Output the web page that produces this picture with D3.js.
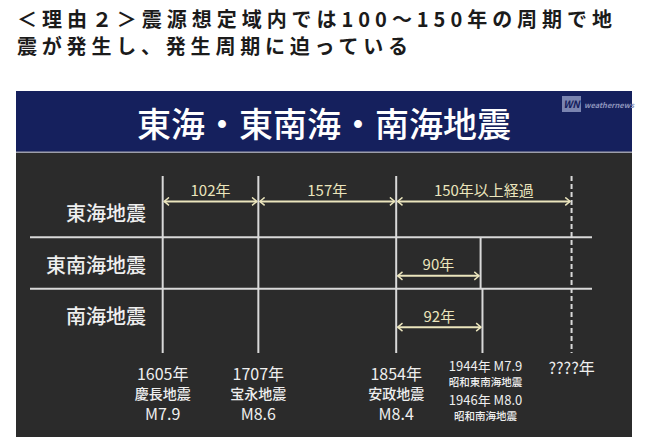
<!DOCTYPE html>
<html>
<head>
<meta charset="utf-8">
<script src="https://cdn.jsdelivr.net/npm/d3@7"></script>
<style>
  body { margin: 0; background: #fff; }
  svg { display: block; }
</style>
</head>
<body>
<div id="main"></div>
<script>
// Rows (source zones)
const zones = ['東海地震', '東南海地震', '南海地震'];

// Past quakes
const quakeYears = [1605, 1707, 1854, 1944, 1946];
const quakeNames = ['慶長地震', '宝永地震', '安政地震', '昭和東南海地震', '昭和南海地震'];
const quakeMags = ['M7.9', 'M8.6', 'M8.4', 'M7.9', 'M8.0'];
const quakeZones = [zones, zones, zones, ['東南海地震'], ['南海地震']];

// Next one - year unknown, drawn as the dashed line
const nextYear = 2041;
const nextLabel = '????年';

// Intervals (arrows)
const gapFrom = [1605, 1707, 1854, 1854, 1854];
const gapTo = [1707, 1854, nextYear, 1944, 1946];
const gapZone = ['東海地震', '東海地震', '東海地震', '東南海地震', '南海地震'];
const gapLabels = ['102年', '157年', '150年以上経過', '90年', '92年'];

// Texts
const headline = ['＜理由２＞震源想定域内では100〜150年の周期で地', '震が発生し、発生周期に迫っている'];
const panelTitle = '東海・東南海・南海地震';

// Colors
const navy = '#15205d';
const dark = '#2b2b2b';
const lineCol = '#d9d9d9';
const cream = '#ebe5bd';
const textCol = '#efefef';
const font = '"Noto Sans CJK JP", "Noto Sans", sans-serif';

const W = 650, H = 445;

const svg = d3.select('#main')
    .append('svg')
    .attr('width', W)
    .attr('height', H)
    .style('font-family', font);

// Headline
const headWidths = [595, 391];

svg.selectAll('.headline')
    .data(headline)
    .enter()
    .append('text')
    .attr('class', 'headline')
    .attr('x', 17)
    .attr('y', (d, i) => 27 + i * 27)
    .attr('font-size', 20)
    .attr('font-weight', 700)
    .attr('fill', '#1b1b1b')
    .attr('textLength', (d, i) => headWidths[i])
    .attr('lengthAdjust', 'spacing')
    .text((d) => d);

// Panel
svg.append('rect')
    .attr('x', 16).attr('y', 91)
    .attr('width', 616).attr('height', 346)
    .attr('fill', dark);

svg.append('rect')
    .attr('x', 16).attr('y', 91)
    .attr('width', 616).attr('height', 61)
    .attr('fill', navy);

svg.append('rect')
    .attr('x', 16).attr('y', 151.5)
    .attr('width', 616).attr('height', 1.5)
    .attr('fill', '#9d9eab');

svg.append('text')
    .attr('x', 324)
    .attr('y', 122)
    .attr('text-anchor', 'middle')
    .attr('dominant-baseline', 'central')
    .attr('font-size', 34)
    .attr('font-weight', 500)
    .attr('fill', '#ffffff')
    .text(panelTitle);

// logo
svg.append('rect')
    .attr('x', 562).attr('y', 96)
    .attr('width', 19).attr('height', 16)
    .attr('fill', '#7a84b0');
svg.append('text')
    .attr('x', 571.5).attr('y', 108)
    .attr('text-anchor', 'middle')
    .attr('font-size', 10)
    .attr('font-weight', 700)
    .attr('font-style', 'italic')
    .attr('fill', navy)
    .text('WN');
svg.append('text')
    .attr('x', 584).attr('y', 108)
    .attr('font-size', 7.5)
    .attr('font-weight', 700)
    .attr('font-style', 'italic')
    .attr('fill', '#8c93bb')
    .text('weathernews');

// Scales
const xScale = d3.scaleLinear()
    .domain([1600, 2050])
    .range([158, 580]);

const yScale = d3.scaleBand()
    .domain(zones)
    .range([186, 340]);

const bw = yScale.bandwidth();
const lineTopY = yScale.range()[0] - 10;
const lineBottomY = yScale.range()[1] + 13;

// Row labels
svg.selectAll('.zone')
    .data(zones)
    .enter()
    .append('text')
    .attr('class', 'zone')
    .attr('x', 146)
    .attr('y', (d) => yScale(d) + bw / 2 + 1)
    .attr('text-anchor', 'end')
    .attr('dominant-baseline', 'central')
    .attr('font-size', 20)
    .attr('font-weight', 500)
    .attr('fill', textCol)
    .text((d) => d);

// Row separators
svg.selectAll('.sep')
    .data(zones.slice(1))
    .enter()
    .append('line')
    .attr('class', 'sep')
    .attr('x1', 30)
    .attr('x2', 592)
    .attr('y1', (d) => yScale(d))
    .attr('y2', (d) => yScale(d))
    .attr('stroke', lineCol)
    .attr('stroke-width', 2);

// Quake lines
const quakes = quakeYears.map((y, i) => ({
    year: y, name: quakeNames[i], mag: quakeMags[i], zones: quakeZones[i]
}));

function lineTop(z) {
    const first = z[0];
    return first == zones[0] ? lineTopY : yScale(first);
}
function lineBottom(z) {
    const last = z[z.length - 1];
    return last == zones[zones.length - 1] ? lineBottomY : yScale(last) + bw;
}

svg.selectAll('.quake')
    .data(quakes)
    .enter()
    .append('line')
    .attr('class', 'quake')
    .attr('x1', (d) => xScale(d.year))
    .attr('x2', (d) => xScale(d.year))
    .attr('y1', (d) => lineTop(d.zones))
    .attr('y2', (d) => lineBottom(d.zones))
    .attr('stroke', lineCol)
    .attr('stroke-width', 2);

// next quake (dashed)
svg.append('line')
    .attr('x1', xScale(nextYear))
    .attr('x2', xScale(nextYear))
    .attr('y1', lineTopY)
    .attr('y2', lineBottomY)
    .attr('stroke', lineCol)
    .attr('stroke-width', 2)
    .attr('stroke-dasharray', '5,3');

// Arrows
svg.append('defs')
    .append('marker')
    .attr('id', 'head')
    .attr('viewBox', '0 -6 10 12')
    .attr('refX', 9)
    .attr('refY', 0)
    .attr('markerWidth', 8)
    .attr('markerHeight', 9.6)
    .attr('markerUnits', 'userSpaceOnUse')
    .attr('orient', 'auto-start-reverse')
    .append('path')
    .attr('d', 'M3,-5L9,0L3,5')
    .attr('fill', 'none')
    .attr('stroke', cream)
    .attr('stroke-width', 1.8);

const gaps = gapFrom.map((f, i) => ({
    from: f, to: gapTo[i], zone: gapZone[i], label: gapLabels[i]
}));

// first row: arrows near the top, other rows: lower in the row
const arrowY = (d) => yScale(d.zone) + (d.zone == zones[0] ? 0.3 : 0.75) * bw;

svg.selectAll('.gap')
    .data(gaps)
    .enter()
    .append('line')
    .attr('class', 'gap')
    .attr('x1', (d) => xScale(d.from) + 1.5)
    .attr('x2', (d) => xScale(d.to) - 1.5)
    .attr('y1', arrowY)
    .attr('y2', arrowY)
    .attr('stroke', cream)
    .attr('stroke-width', 2)
    .attr('marker-start', 'url(#head)')
    .attr('marker-end', 'url(#head)');

svg.selectAll('.gaplabel')
    .data(gaps)
    .enter()
    .append('text')
    .attr('class', 'gaplabel')
    .attr('x', (d) => (xScale(d.from) + xScale(d.to)) / 2)
    .attr('y', (d) => arrowY(d) - 12)
    .attr('text-anchor', 'middle')
    .attr('dominant-baseline', 'central')
    .attr('font-size', 15)
    .attr('fill', cream)
    .text((d) => d.label);

// Bottom labels - quakes on the whole trough
const full = quakes.filter((d) => d.zones.length == zones.length);
const partial = quakes.filter((d) => d.zones.length < zones.length);

const fullG = svg.selectAll('.full')
    .data(full)
    .enter()
    .append('g')
    .attr('class', 'full')
    .attr('transform', (d) => `translate(${xScale(d.year)}, 0)`)
    .attr('text-anchor', 'middle')
    .attr('fill', textCol);

fullG.append('text')
    .attr('y', 373)
    .attr('dominant-baseline', 'central')
    .attr('font-size', 16)
    .text((d) => d.year + '年');
fullG.append('text')
    .attr('y', 393)
    .attr('dominant-baseline', 'central')
    .attr('font-size', 14)
    .attr('font-weight', 500)
    .text((d) => d.name);
fullG.append('text')
    .attr('y', 413)
    .attr('dominant-baseline', 'central')
    .attr('font-size', 16)
    .text((d) => d.mag);

// Showa quakes, stacked
const showaX = d3.mean(partial, (d) => xScale(d.year)) + 4;

const partG = svg.selectAll('.part')
    .data(partial)
    .enter()
    .append('g')
    .attr('class', 'part')
    .attr('transform', (d, i) => `translate(${showaX}, ${i * 34})`)
    .attr('text-anchor', 'middle')
    .attr('fill', textCol);

partG.append('text')
    .attr('y', 365)
    .attr('dominant-baseline', 'central')
    .attr('font-size', 13)
    .text((d) => `${d.year}年 ${d.mag}`);
partG.append('text')
    .attr('y', 381)
    .attr('dominant-baseline', 'central')
    .attr('font-size', 10.5)
    .attr('font-weight', 500)
    .text((d) => d.name);

svg.append('text')
    .attr('x', xScale(nextYear))
    .attr('y', 367)
    .attr('text-anchor', 'middle')
    .attr('dominant-baseline', 'central')
    .attr('font-size', 16)
    .attr('fill', textCol)
    .text(nextLabel);
</script>
</body>
</html>
